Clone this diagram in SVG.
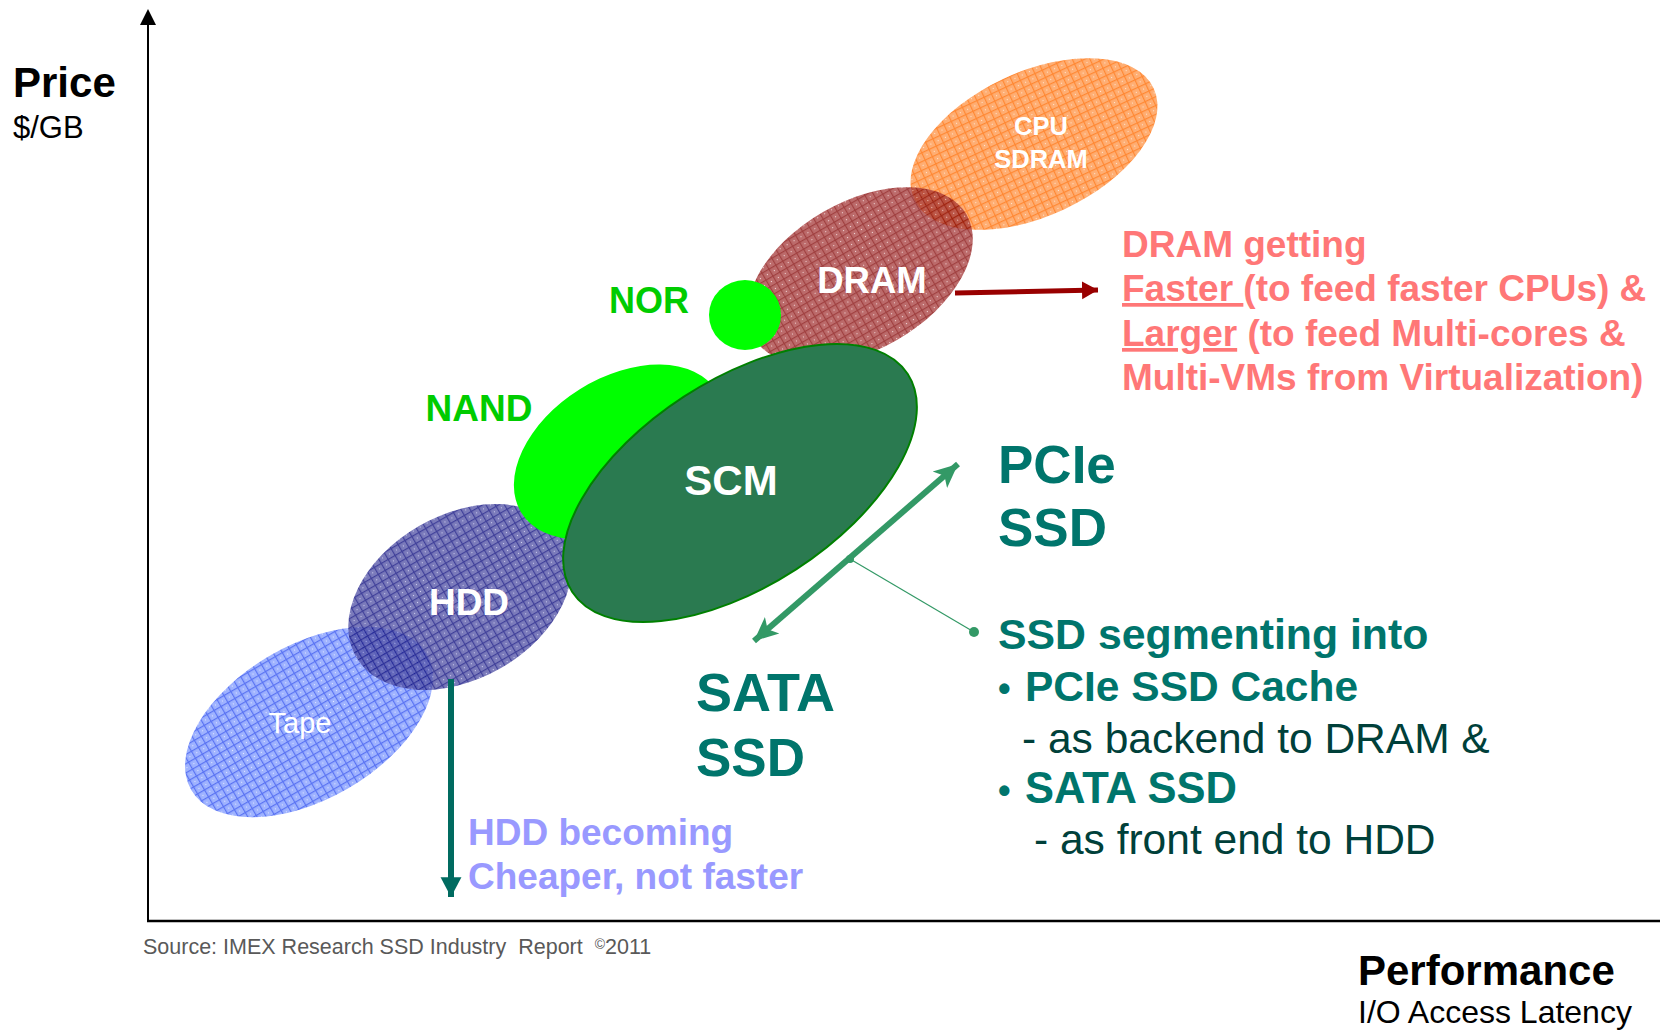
<svg xmlns="http://www.w3.org/2000/svg" width="1660" height="1030" viewBox="0 0 1660 1030">
<style>
text{font-family:"Liberation Sans",Arial,sans-serif}
.b{font-weight:bold}
.w{fill:#ffffff}
.teal{fill:#00756C;font-weight:bold}
.dark{fill:#00403A}
.salmon{fill:#FF7777;font-weight:bold;font-size:37px}
.lav{fill:#9999FF;font-weight:bold;font-size:37px}
</style>
<defs>
<pattern id="pTape" width="8" height="8" patternUnits="userSpaceOnUse">
<rect width="8" height="8" fill="#7F99FF"/><rect width="8" height="1.2" fill="#2244EE"/><rect width="1.2" height="8" fill="#2244EE"/><rect x="4" y="4" width="1" height="1" fill="#DDE4FF"/>
</pattern>
<pattern id="pHdd" width="8" height="8" patternUnits="userSpaceOnUse">
<rect width="8" height="8" fill="#5A5AAA"/><rect width="8" height="1.2" fill="#101080"/><rect width="1.2" height="8" fill="#101080"/><rect x="4" y="4" width="1" height="1" fill="#C8C8EE"/>
</pattern>
<pattern id="pCpu" width="8" height="8" patternUnits="userSpaceOnUse">
<rect width="8" height="8" fill="#FF9A50"/><rect width="8" height="1.2" fill="#FF6A00"/><rect width="1.2" height="8" fill="#FF6A00"/><rect x="4" y="4" width="1" height="1" fill="#FFE0C8"/>
</pattern>
<pattern id="pDram" width="8" height="8" patternUnits="userSpaceOnUse">
<rect width="8" height="8" fill="#A63A3A"/><rect width="8" height="1.2" fill="#800000"/><rect width="1.2" height="8" fill="#800000"/><rect x="4" y="4" width="1" height="1" fill="#F0D0D0"/>
</pattern>
<marker id="ahBlack" markerWidth="16" markerHeight="16" refX="0" refY="0" viewBox="-8 -8 16 16" orient="auto" markerUnits="userSpaceOnUse">
<path d="M-8,-8 L8,0 L-8,8 Z" fill="#000"/>
</marker>
<marker id="ahRed" markerWidth="20" markerHeight="20" viewBox="-16 -10 20 20" refX="0" refY="0" orient="auto" markerUnits="userSpaceOnUse">
<path d="M-16,-9 L0,0 L-16,9 Z" fill="#990000"/>
</marker>
<marker id="ahTeal" markerWidth="22" markerHeight="22" viewBox="-18 -10 20 20" refX="0" refY="0" orient="auto" markerUnits="userSpaceOnUse">
<path d="M-18,-9.5 L0,0 L-18,9.5 Z" fill="#006B60"/>
</marker>
<marker id="ahGreen" markerWidth="26" markerHeight="26" viewBox="-24 -12 26 24" refX="0" refY="0" orient="auto" markerUnits="userSpaceOnUse">
<path d="M-24,-11 L0,0 L-24,11 L-18,0 Z" fill="#339966"/>
</marker>
<marker id="ahGreenS" markerWidth="26" markerHeight="26" viewBox="-2 -12 26 24" refX="0" refY="0" orient="auto" markerUnits="userSpaceOnUse">
<path d="M24,-11 L0,0 L24,11 L18,0 Z" fill="#339966"/>
</marker>
</defs>

<g id="tape">
<ellipse cx="309" cy="722" rx="136" ry="77" transform="rotate(-30 309 722)" fill="url(#pTape)" opacity="0.75"/>
<text x="300" y="733" class="w" font-size="29" text-anchor="middle">Tape</text>
</g>
<g id="hdd">
<ellipse cx="460" cy="597" rx="120" ry="82" transform="rotate(-30 460 597)" fill="url(#pHdd)" opacity="0.8"/>
</g>
<g id="cpu-sdram">
<ellipse cx="1034" cy="144" rx="132" ry="72" transform="rotate(-25 1034 144)" fill="url(#pCpu)" opacity="0.8"/>
<text x="1041" y="135" class="w b" font-size="25.5" text-anchor="middle">CPU</text>
<text x="1041" y="168" class="w b" font-size="25.5" text-anchor="middle">SDRAM</text>
</g>
<g id="dram">
<ellipse cx="860" cy="276" rx="123" ry="74" transform="rotate(-30 860 276)" fill="url(#pDram)" opacity="0.75"/>
<text x="872" y="293" class="w b" font-size="36.5" text-anchor="middle">DRAM</text>
</g>
<g id="nor">
<ellipse cx="745" cy="315" rx="36" ry="35" fill="#00FF00"/>
<text x="649" y="313" class="b" fill="#00CC00" font-size="36" text-anchor="middle">NOR</text>
</g>
<g id="nand">
<ellipse cx="619" cy="452" rx="115" ry="74" transform="rotate(-32 619 452)" fill="#00FF00"/>
<text x="479" y="421" class="b" fill="#00CC00" font-size="37" text-anchor="middle">NAND</text>
</g>
<g id="hdd-label">
<text x="469" y="615" class="w b" font-size="37" text-anchor="middle">HDD</text>
</g>
<g id="scm">
<ellipse cx="740" cy="483" rx="200" ry="103" transform="rotate(-33 740 483)" fill="#2A7A50" stroke="#008000" stroke-width="2"/>
<text x="731" y="495" class="w b" font-size="42" text-anchor="middle">SCM</text>
</g>

<g id="connectors">
<line x1="148" y1="922" x2="148" y2="17" stroke="#000" stroke-width="2" marker-end="url(#ahBlack)"/>
<line x1="147" y1="921" x2="1660" y2="921" stroke="#000" stroke-width="2.5"/>
<line x1="955" y1="293" x2="1098" y2="290" stroke="#990000" stroke-width="5" marker-end="url(#ahRed)"/>
<line x1="451" y1="679" x2="451" y2="897" stroke="#006B60" stroke-width="6" marker-end="url(#ahTeal)"/>
<line x1="754" y1="641" x2="958" y2="464" stroke="#339966" stroke-width="6" marker-start="url(#ahGreenS)" marker-end="url(#ahGreen)"/>
<line x1="850" y1="559" x2="974" y2="632" stroke="#339966" stroke-width="1.2"/>
<circle cx="850" cy="559" r="4" fill="#339966"/>
<circle cx="974" cy="632" r="5" fill="#339966"/>
</g>

<g id="axis-labels">
<text x="13" y="97" class="b" fill="#000" font-size="42">Price</text>
<text x="13" y="138" fill="#000" font-size="31">$/GB</text>
<text x="1358" y="985" class="b" fill="#000" font-size="42">Performance</text>
<text x="1358" y="1023" fill="#000" font-size="32">I/O Access Latency</text>
<text x="143" y="954" fill="#595959" font-size="21.5" xml:space="preserve">Source: IMEX Research SSD Industry  Report  <tspan font-size="14" dy="-5">©</tspan><tspan dy="5">2011</tspan></text>
</g>

<g id="dram-note">
<text x="1122" y="257" class="salmon">DRAM getting</text>
<text x="1122" y="301" class="salmon" xml:space="preserve"><tspan text-decoration="underline">Faster </tspan>(to feed faster CPUs) &amp;</text>
<text x="1122" y="346" class="salmon" xml:space="preserve"><tspan text-decoration="underline">Larger</tspan> (to feed Multi-cores &amp;</text>
<text x="1122" y="390" class="salmon">Multi-VMs from Virtualization)</text>
</g>

<g id="hdd-note">
<text x="468" y="845" class="lav">HDD becoming</text>
<text x="468" y="889" class="lav">Cheaper, not faster</text>
</g>

<g id="pcie-ssd">
<text x="998" y="483" class="teal" font-size="53">PCIe</text>
<text x="998" y="546" class="teal" font-size="53">SSD</text>
</g>
<g id="sata-ssd">
<text x="696" y="711" class="teal" font-size="54">SATA</text>
<text x="696" y="776" class="teal" font-size="53">SSD</text>
</g>

<g id="ssd-note">
<text x="998" y="649" class="teal" font-size="42.8">SSD segmenting into</text>
<text x="998" y="701" class="teal" font-size="36">•</text>
<text x="1025" y="701" class="teal" font-size="42.5">PCIe SSD Cache</text>
<text x="1022" y="753" class="dark" font-size="42.5">- as backend to DRAM &amp;</text>
<text x="998" y="803" class="teal" font-size="36">•</text>
<text x="1025" y="803" class="teal" font-size="43.5">SATA SSD</text>
<text x="1034" y="854" class="dark" font-size="42.5">- as front end to HDD</text>
</g>
</svg>
